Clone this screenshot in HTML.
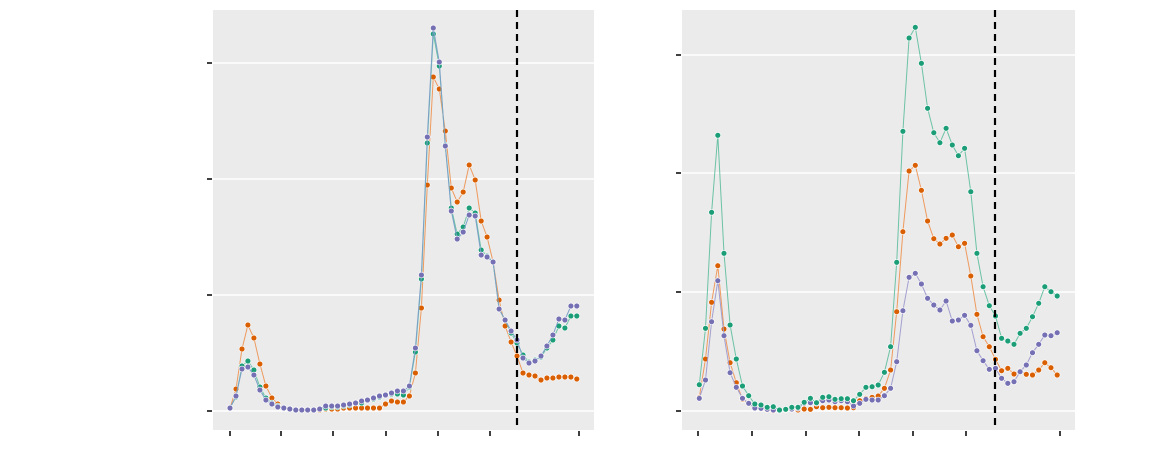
<!DOCTYPE html>
<html><head><meta charset="utf-8"><style>html,body{margin:0;padding:0;background:#fff;width:1170px;height:450px;overflow:hidden}</style></head>
<body>
<svg id="s" width="1170" height="450" xmlns="http://www.w3.org/2000/svg">
<rect x="213" y="10" width="381" height="420" fill="#ebebeb"/>
<rect x="682" y="10" width="393" height="420" fill="#ebebeb"/>
<g stroke="#fff" stroke-width="1.6">
<line x1="213" x2="594" y1="63" y2="63"/><line x1="213" x2="594" y1="179" y2="179"/><line x1="213" x2="594" y1="295" y2="295"/><line x1="213" x2="594" y1="411" y2="411"/>
<line x1="682" x2="1075" y1="55" y2="55"/><line x1="682" x2="1075" y1="173" y2="173"/><line x1="682" x2="1075" y1="292" y2="292"/><line x1="682" x2="1075" y1="411" y2="411"/>
</g>
<g stroke="#000" stroke-width="1.5">
<line x1="207" x2="212" y1="63" y2="63"/><line x1="207" x2="212" y1="179" y2="179"/><line x1="207" x2="212" y1="295" y2="295"/><line x1="207" x2="212" y1="411" y2="411"/>
<line x1="676" x2="681" y1="55" y2="55"/><line x1="676" x2="681" y1="173" y2="173"/><line x1="676" x2="681" y1="292" y2="292"/><line x1="676" x2="681" y1="411" y2="411"/>
<line x1="230" x2="230" y1="431" y2="436"/><line x1="281" x2="281" y1="431" y2="436"/><line x1="333" x2="333" y1="431" y2="436"/><line x1="386" x2="386" y1="431" y2="436"/><line x1="438" x2="438" y1="431" y2="436"/><line x1="490" x2="490" y1="431" y2="436"/><line x1="579" x2="579" y1="431" y2="436"/>
<line x1="698" x2="698" y1="431" y2="436"/><line x1="752" x2="752" y1="431" y2="436"/><line x1="806" x2="806" y1="431" y2="436"/><line x1="859" x2="859" y1="431" y2="436"/><line x1="913" x2="913" y1="431" y2="436"/><line x1="966" x2="966" y1="431" y2="436"/><line x1="1060" x2="1060" y1="431" y2="436"/>
</g>
<g id="d"></g>
<g stroke="#000" stroke-width="2.2" stroke-dasharray="7,5">
<line x1="517" x2="517" y1="10" y2="430"/><line x1="995" x2="995" y1="10" y2="430"/>
</g>
</svg>
<script>
var LO=[408,389,349,325,338,364,386,398,404,408,409,410,410,410,410,410,409,409,409,408,408,408,408,408,408,408,404,401,402,402,396,373,308,185,77,89,131,188,202,192,165,180,221,237,262,300,326,342,356,373,375,376,380,378,378,377,377,377,379];
var LG=[408,397,366,361,370,387,398,403,406,408,409,410,410,410,410,409,408,407,407,406,405,403,403,400,399,397,395,394,394,395,387,352,279,143,34,66,145,208,234,227,208,213,250,256,262,309,320,333,343,355,362,360,357,348,340,326,328,316,316];
var LP=[408,396,369,367,375,390,400,404,407,408,409,410,410,410,410,409,406,406,406,405,404,403,401,400,398,396,395,393,391,391,386,348,275,137,28,62,146,211,239,232,215,216,255,257,262,309,320,331,340,358,363,361,356,346,335,319,320,306,306];
var RG=[1124,955,607,376,730,945,1047,1128,1157,1182,1185,1192,1190,1200,1198,1192,1192,1177,1165,1178,1162,1160,1168,1166,1166,1172,1153,1132,1130,1125,1087,1010,757,364,84,52,160,295,368,398,355,405,437,415,545,730,830,887,918,985,993,1003,970,955,920,880,830,845,858];
var RO=[1162,1047,877,767,957,1058,1118,1168,1180,1187,1193,1200,1202,1202,1200,1198,1200,1197,1198,1190,1193,1192,1193,1193,1194,1193,1172,1165,1162,1158,1135,1080,905,665,483,466,541,633,686,702,685,675,710,700,798,913,980,1010,1048,1082,1075,1092,1083,1093,1095,1080,1058,1073,1095];
var RP=[1165,1110,935,812,977,1088,1132,1165,1180,1194,1195,1198,1200,1202,1198,1197,1195,1180,1178,1180,1172,1170,1175,1172,1175,1188,1180,1168,1170,1170,1157,1135,1055,902,802,790,822,865,885,900,873,933,930,916,946,1022,1052,1078,1075,1105,1120,1115,1085,1065,1028,1003,975,977,968];
var g=document.getElementById('d'),h='';
function ser(x0,dx,ys,f,c,lc){var p=[];for(var i=0;i<ys.length;i++){p.push((x0+dx*i).toFixed(1)+','+f(ys[i]).toFixed(1));}
h+='<polyline fill="none" stroke="'+lc+'" stroke-width="1" points="'+p.join(' ')+'"/>';
for(var i=0;i<ys.length;i++){h+='<circle cx="'+(x0+dx*i).toFixed(1)+'" cy="'+f(ys[i]).toFixed(1)+'" r="2.9" fill="'+c+'" stroke="#fff" stroke-width="0.6"/>';}}
var id=function(v){return v},rz=function(v){return 10+v/3};
ser(230,5.98,LO,id,'#d95f02','#ee9a5e');ser(230,5.98,LG,id,'#1b9e77','#6cc2a6');ser(230,5.98,LP,id,'#7570b3','#7aa0c8');
ser(699.3,6.17,RO,rz,'#d95f02','#ee9a5e');ser(699.3,6.17,RP,rz,'#7570b3','#a29fd0');ser(699.3,6.17,RG,rz,'#1b9e77','#6cc2a6');
g.innerHTML=h;
</script>
</body></html>
